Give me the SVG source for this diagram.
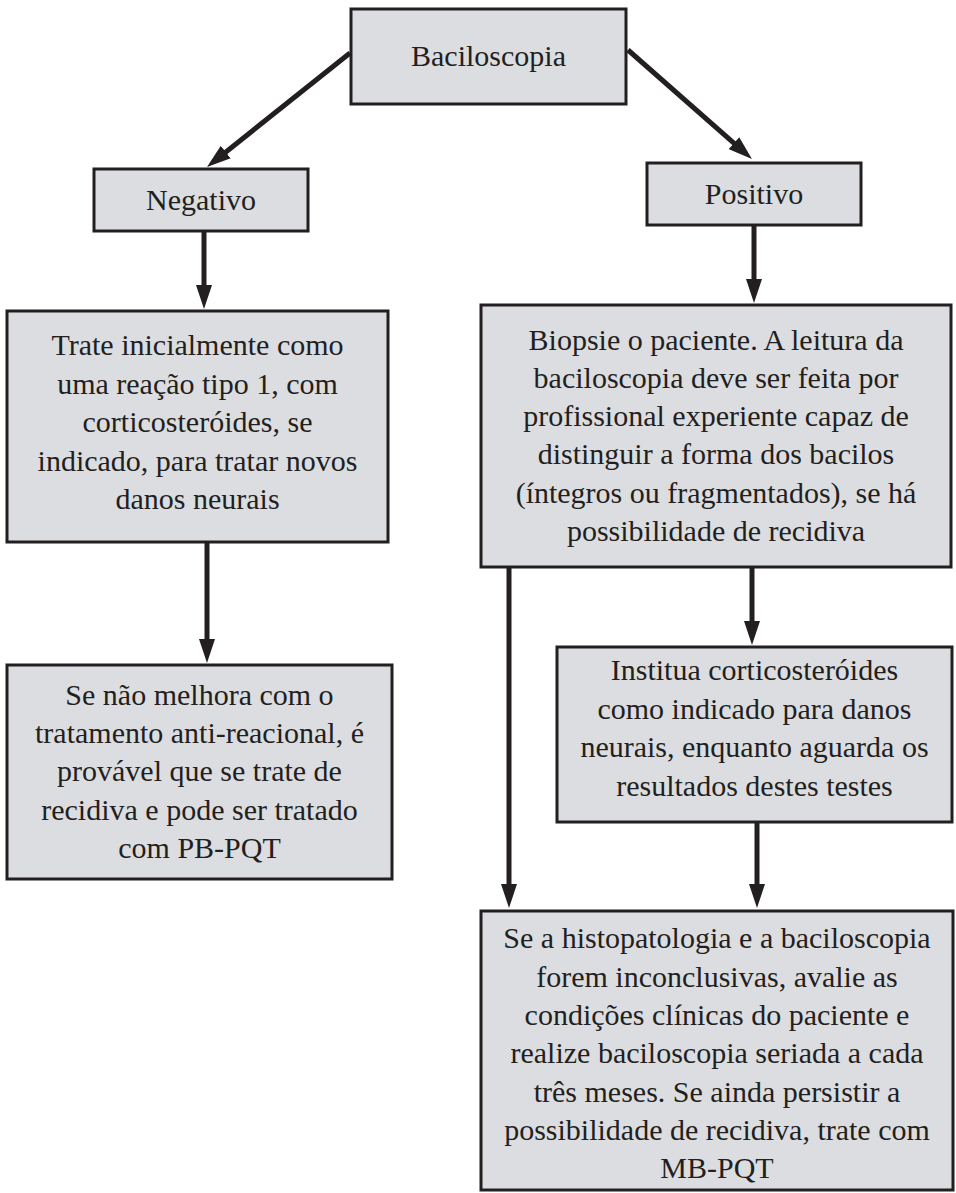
<svg xmlns="http://www.w3.org/2000/svg" width="956" height="1193" viewBox="0 0 956 1193">
<style>
.box{fill:#dcdde0;stroke:#231f20;stroke-width:3}
.t{font-family:"Liberation Serif","Times New Roman",serif;font-size:30px;fill:#231f20;text-anchor:middle}
.c{stroke:#231f20;stroke-width:5;fill:none;marker-end:url(#ah)}
</style>
<defs>
<marker id="ah" markerUnits="userSpaceOnUse" markerWidth="24" markerHeight="16" refX="9" refY="8" orient="auto">
<path d="M0,0 L24,8 L0,16 z" fill="#231f20"/>
</marker>
</defs>
<rect width="956" height="1193" fill="#ffffff"/>
<g id="connectors">
<line class="c" x1="350" y1="53" x2="218.7" y2="157.7"/>
<line class="c" x1="628" y1="50" x2="740.7" y2="149.1"/>
<line class="c" x1="204" y1="231" x2="204" y2="294"/>
<line class="c" x1="207" y1="542" x2="207" y2="648"/>
<line class="c" x1="754" y1="225" x2="754" y2="288"/>
<line class="c" x1="752" y1="567" x2="752" y2="630"/>
<line class="c" x1="509" y1="567" x2="509" y2="893"/>
<line class="c" x1="757" y1="822" x2="757" y2="893"/>
</g>
<g id="baciloscopia">
<rect class="box" x="351" y="9" width="275" height="95"/>
<text class="t" x="488.5" y="66">Baciloscopia</text>
</g>
<g id="negativo">
<rect class="box" x="94" y="169" width="214" height="62"/>
<text class="t" x="201" y="210">Negativo</text>
</g>
<g id="positivo">
<rect class="box" x="647" y="163" width="214" height="62"/>
<text class="t" x="754" y="204">Positivo</text>
</g>
<g id="trate">
<rect class="box" x="7" y="311" width="381" height="231"/>
<text class="t" x="197.5" y="355">Trate inicialmente como</text>
<text class="t" x="197.5" y="394">uma reação tipo 1, com</text>
<text class="t" x="197.5" y="432">corticosteróides, se</text>
<text class="t" x="197.5" y="471">indicado, para tratar novos</text>
<text class="t" x="197.5" y="509">danos neurais</text>
</g>
<g id="senao">
<rect class="box" x="7" y="665" width="385" height="214"/>
<text class="t" x="199.5" y="705">Se não melhora com o</text>
<text class="t" x="199.5" y="743">tratamento anti-reacional, é</text>
<text class="t" x="199.5" y="781">provável que se trate de</text>
<text class="t" x="199.5" y="820">recidiva e pode ser tratado</text>
<text class="t" x="199.5" y="858">com PB-PQT</text>
</g>
<g id="biopsie">
<rect class="box" x="481" y="305" width="470" height="262"/>
<text class="t" x="716" y="350">Biopsie o paciente. A leitura da</text>
<text class="t" x="716" y="388">baciloscopia deve ser feita por</text>
<text class="t" x="716" y="426">profissional experiente capaz de</text>
<text class="t" x="716" y="464">distinguir a forma dos bacilos</text>
<text class="t" x="716" y="503">(íntegros ou fragmentados), se há</text>
<text class="t" x="716" y="541">possibilidade de recidiva</text>
</g>
<g id="institua">
<rect class="box" x="557" y="647" width="395" height="175"/>
<text class="t" x="754.5" y="680">Institua corticosteróides</text>
<text class="t" x="754.5" y="719">como indicado para danos</text>
<text class="t" x="754.5" y="757">neurais, enquanto aguarda os</text>
<text class="t" x="754.5" y="796">resultados destes testes</text>
</g>
<g id="histopatologia">
<rect class="box" x="481" y="911" width="472" height="279"/>
<text class="t" x="717" y="948">Se a histopatologia e a baciloscopia</text>
<text class="t" x="717" y="987">forem inconclusivas, avalie as</text>
<text class="t" x="717" y="1025">condições clínicas do paciente e</text>
<text class="t" x="717" y="1063">realize baciloscopia seriada a cada</text>
<text class="t" x="717" y="1102">três meses. Se ainda persistir a</text>
<text class="t" x="717" y="1140">possibilidade de recidiva, trate com</text>
<text class="t" x="717" y="1178">MB-PQT</text>
</g>
</svg>
